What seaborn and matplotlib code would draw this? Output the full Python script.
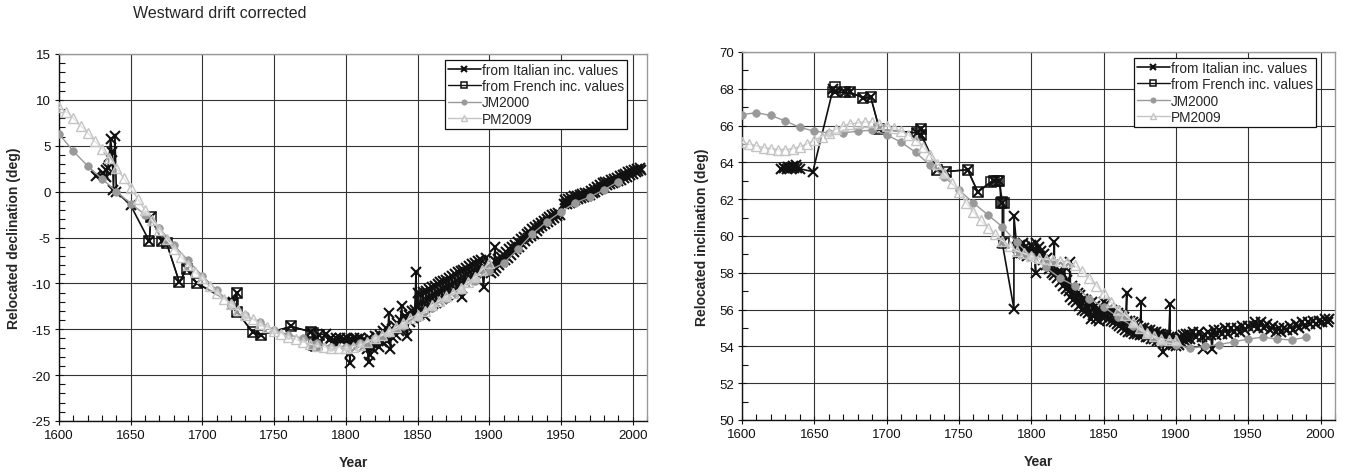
import numpy as np
import matplotlib
matplotlib.use("Agg")
import matplotlib.pyplot as plt
from matplotlib.ticker import MultipleLocator
import seaborn as sns

# ---------------- DATA ----------------
title_text = "Westward drift corrected"
series_labels = ["from Italian inc. values", "from French inc. values", "JM2000", "PM2009"]

jm_years = list(range(1600, 2000, 10))
pm_years = list(range(1600, 1905, 5))

# ---- declination panel ----
dec_jm = [6.3, 4.4, 2.8, 1.4, 0.0, -1.3, -2.5, -4.0, -5.8, -7.5,
          -9.2, -10.7, -12.3, -13.5, -14.2, -15.1, -15.6, -16.0, -16.5, -16.9,
          -16.9, -16.5, -16.0, -15.4, -14.7, -13.7, -12.7, -11.7, -10.7, -9.7,
          -8.6, -7.8, -6.3, -4.6, -3.3, -2.2, -1.2, -0.6, 0.2, 1.1]
dec_pm = [9.2, 8.7, 8.0, 7.2, 6.4, 5.5, 4.7, 3.7, 2.6, 1.5, 0.4,
          -0.8, -2.0, -3.1, -4.2, -5.2, -6.2, -7.1, -8.0, -8.8, -9.4,
          -10.3, -11.0, -11.7, -12.3, -12.9, -13.4, -13.9, -14.4, -14.8, -15.2,
          -15.5, -15.8, -16.1, -16.4, -16.6, -16.8, -16.9, -17.0, -17.0, -17.0,
          -16.9, -16.7, -16.4, -16.0, -15.6, -15.2, -14.8, -14.3, -13.8, -13.4,
          -13.0, -12.4, -11.9, -11.4, -11.0, -10.5, -9.9, -9.3, -8.5, -7.75]
dec_fr_years = [1663, 1664, 1672, 1675, 1684, 1689, 1696, 1721, 1724, 1724,
                1735, 1741, 1762, 1776, 1777, 1778, 1779, 1780, 1781]
dec_fr = [-5.4, -2.8, -5.4, -5.6, -9.9, -8.4, -10.0, -12.2, -11.0, -13.1,
          -15.3, -15.6, -14.7, -15.3, -15.4, -16.7, -16.8, -16.7, -15.6]
dec_it_years = [
    1626, 1631, 1633, 1633, 1634, 1635, 1636, 1637, 1638, 1639, 1640, 1650,
    1663, 1664, 1672, 1675, 1684, 1689, 1696, 1721, 1724, 1724, 1735, 1741,
    1762, 1776, 1778, 1780, 1781,
    1786, 1788, 1790, 1791, 1793, 1794, 1796, 1797, 1799, 1800, 1801, 1802,
    1803, 1803, 1804, 1805, 1806, 1807, 1808, 1809, 1810, 1811, 1812, 1813,
    1814, 1815, 1816, 1816, 1817, 1818, 1819, 1820, 1821, 1822, 1823, 1824,
    1825, 1826, 1827, 1828, 1829, 1830, 1831, 1832, 1833, 1834, 1835, 1836,
    1837, 1838, 1839, 1840, 1841, 1842, 1843, 1844, 1845, 1846, 1847, 1848,
    1849, 1849, 1850, 1851, 1852, 1853, 1854, 1855, 1856, 1857, 1858, 1859,
    1860, 1861, 1862, 1863, 1864, 1865, 1866, 1867, 1868, 1869, 1870, 1871,
    1872, 1873, 1874, 1875, 1876, 1877, 1878, 1879, 1880, 1881, 1882, 1883,
    1884, 1885, 1886, 1887, 1888, 1889, 1890, 1891, 1892, 1893, 1894, 1895,
    1896, 1897, 1898, 1899, 1900, 1901, 1902, 1903, 1904, 1904, 1905, 1906,
    1907, 1908, 1909, 1910, 1911, 1912, 1913, 1914, 1915, 1916, 1917, 1918,
    1919, 1920, 1921, 1922, 1923, 1924, 1925, 1926, 1927, 1928, 1929, 1930,
    1931, 1932, 1933, 1934, 1935, 1936, 1937, 1938, 1939, 1940, 1941, 1942,
    1943, 1944, 1945, 1946, 1947, 1948, 1949,
    1952, 1953, 1954, 1955, 1956, 1957, 1958, 1959, 1960, 1961, 1962, 1963,
    1964, 1965, 1966, 1967, 1968, 1969, 1970, 1971, 1972, 1973, 1974, 1975,
    1976, 1977, 1978, 1979, 1980, 1981, 1982, 1983, 1984, 1985, 1986, 1987,
    1988, 1989, 1990, 1991, 1992, 1993, 1994, 1995, 1996, 1997, 1998, 1999,
    2000, 2001, 2002, 2003, 2004, 2005, 2006]
dec_it = [
    1.7, 2.0, 2.4, 1.6, 2.6, 3.8, 5.7, 4.3, 0.2, 6.1, 0.0, -1.5,
    -5.4, -2.8, -5.4, -5.6, -9.9, -8.4, -10.0, -12.0, -11.0, -13.1, -15.3, -15.6,
    -14.7, -15.3, -16.7, -16.8, -15.6,
    -15.5, -16.2, -15.9, -16.4, -16.0, -16.5, -15.9, -16.3, -16.1, -16.6, -15.9, -16.4,
    -18.7, -17.6, -16.2, -16.5, -15.9, -16.4, -16.1, -16.6, -16.0, -16.5, -16.2, -16.8,
    -16.3, -17.2, -18.6, -16.0, -17.8, -16.5, -17.1, -15.7, -16.6, -15.8, -16.9, -15.6,
    -16.4, -15.2, -16.1, -14.9, -16.3, -13.2, -17.2, -15.0, -16.0, -14.7, -15.6, -14.3,
    -15.2, -14.0, -12.5, -15.0, -13.6, -14.6, -15.7, -13.4, -14.2, -13.0, -13.8, -12.9,
    -8.8, -13.3, -11.0, -13.4, -11.2, -12.9, -10.9, -13.6, -10.8, -12.6, -10.6, -12.4,
    -10.4, -12.3, -10.3, -12.1, -10.1, -11.9, -9.9, -11.7, -9.7, -11.5, -9.6, -11.3,
    -9.4, -11.0, -9.2, -10.9, -9.0, -10.7, -8.8, -10.4, -8.7, -11.5, -8.5, -9.9,
    -8.3, -9.6, -8.1, -9.4, -7.9, -9.1, -7.8, -8.9, -7.6, -8.7, -7.5, -8.5,
    -10.4, -8.3, -7.2, -8.6, -8.2, -8.9, -7.9, -8.6, -6.0, -7.6, -8.3, -7.3,
    -8.0, -7.1, -7.7, -6.9, -7.4, -6.6, -7.2, -6.3, -6.9, -6.0, -6.6, -5.8,
    -6.3, -5.5, -6.0, -5.2, -5.7, -4.9, -5.4, -4.6, -5.1, -4.4, -4.8, -4.1,
    -4.6, -3.9, -4.3, -3.6, -4.0, -3.4, -3.8, -3.2, -3.5, -3.0, -3.3, -2.8,
    -3.1, -2.6, -2.9, -2.4, -2.7, -2.3, -2.6,
    -1.4, -0.9, -1.3, -0.8, -1.2, -0.7, -1.0, -0.5, -0.9, -0.5, -0.8, -0.4,
    -0.7, -0.3, -0.6, -0.2, -0.5, -0.1, -0.4, 0.1, -0.2, 0.3, 0.0, 0.5,
    0.2, 0.7, 0.4, 0.9, 0.5, 1.0, 0.7, 1.1, 0.8, 1.3, 0.9, 1.4,
    1.1, 1.5, 1.2, 1.7, 1.3, 1.8, 1.5, 1.9, 1.6, 2.1, 1.8, 2.2,
    1.9, 2.4, 2.1, 2.5, 2.2, 2.6, 2.4]

# ---- inclination panel ----
inc_jm = [66.6, 66.7, 66.55, 66.25, 65.9, 65.7, 65.6, 65.6, 65.7, 65.75,
          65.5, 65.1, 64.55, 63.85, 63.2, 62.5, 61.8, 61.15, 60.5, 59.65,
          58.9, 58.3, 57.7, 57.3, 56.6, 56.15, 55.6, 55.1, 54.7, 54.25,
          54.1, 53.9, 54.0, 54.1, 54.25, 54.4, 54.5, 54.4, 54.35, 54.5]
inc_pm = [65.1, 65.0, 64.9, 64.8, 64.75, 64.7, 64.7, 64.75, 64.85, 65.0, 65.2,
          65.4, 65.6, 65.8, 66.0, 66.1, 66.15, 66.2, 66.2, 66.1, 66.0,
          65.85, 65.7, 65.5, 65.2, 64.85, 64.4, 63.9, 63.4, 62.9, 62.4,
          61.8, 61.3, 60.85, 60.45, 60.1, 59.75, 59.45, 59.2, 59.05, 58.9,
          58.8, 58.75, 58.7, 58.65, 58.6, 58.4, 58.1, 57.7, 57.3, 56.9,
          56.4, 56.0, 55.7, 55.35, 55.0, 54.75, 54.55, 54.4, 54.35, 54.35]
inc_fr_years = [1663, 1664, 1671, 1675, 1684, 1689, 1695, 1721, 1724, 1724,
                1735, 1741, 1756, 1763, 1772, 1774, 1776, 1778, 1779, 1780, 1781, 1781]
inc_fr = [67.8, 68.1, 67.8, 67.8, 67.5, 67.55, 65.8, 65.6, 65.8, 65.5,
          63.6, 63.5, 63.6, 62.4, 62.95, 63.0, 63.0, 63.0, 61.8, 61.85, 61.8, 59.6]
inc_it_years = [
    1627, 1629, 1631, 1632, 1634, 1635, 1636, 1637, 1638, 1640, 1649,
    1663, 1664, 1671, 1675, 1684, 1689, 1695, 1721, 1724, 1724, 1735, 1741,
    1756, 1763, 1774, 1778, 1780, 1780, 1788, 1788,
    1790, 1791, 1792, 1793, 1794, 1795, 1796, 1797, 1798, 1799, 1800, 1801,
    1802, 1803, 1803, 1804, 1805, 1806, 1807, 1808, 1809, 1810, 1811, 1812,
    1813, 1814, 1815, 1816, 1816, 1817, 1818, 1819, 1820, 1821, 1822, 1823,
    1824, 1825, 1826, 1827, 1827, 1828, 1829, 1830, 1831, 1832, 1833, 1834,
    1835, 1836, 1837, 1838, 1839, 1840, 1841, 1842, 1843, 1844, 1845, 1846,
    1847, 1848, 1849, 1850, 1851, 1852, 1853, 1854, 1855, 1856, 1857, 1858,
    1859, 1860, 1861, 1862, 1863, 1864, 1865, 1866, 1866, 1867, 1868, 1869,
    1870, 1871, 1872, 1873, 1874, 1875, 1876, 1876, 1877, 1878, 1879, 1880,
    1881, 1882, 1883, 1884, 1885, 1886, 1887, 1888, 1889, 1890, 1891, 1891,
    1892, 1893, 1894, 1895, 1896, 1896, 1897, 1898, 1899, 1900, 1901, 1902,
    1903, 1904, 1905, 1906, 1907, 1908, 1909, 1910, 1912, 1914, 1916, 1918,
    1919, 1920, 1922, 1924, 1925, 1926, 1928, 1930, 1932, 1934, 1936, 1938,
    1940, 1942, 1944, 1946, 1948, 1950,
    1954, 1955, 1957, 1959, 1961, 1963, 1965, 1967, 1969, 1971, 1973, 1975,
    1977, 1979, 1981, 1983, 1985, 1987, 1989, 1991, 1993, 1995, 1997, 1999,
    2001, 2003, 2005, 2006]
inc_it = [
    63.65, 63.7, 63.65, 63.75, 63.7, 63.8, 63.7, 63.85, 63.7, 63.65, 63.5,
    68.0, 67.8, 67.8, 67.8, 67.5, 67.55, 65.8, 65.6, 65.8, 65.5, 63.6, 63.5,
    63.6, 62.4, 63.0, 63.0, 61.8, 59.6, 56.05, 61.1,
    59.4, 59.0, 59.5, 59.1, 59.6, 59.0, 59.4, 58.9, 59.3, 59.0, 59.5, 58.9,
    59.3, 58.0, 59.6, 59.0, 59.4, 58.9, 59.2, 58.7, 59.0, 58.4, 58.8, 58.2,
    58.6, 58.0, 58.4, 59.7, 57.9, 58.3, 57.7, 58.1, 57.5, 58.0, 57.3, 58.3,
    57.1, 57.6, 57.0, 58.6, 56.7, 57.3, 56.5, 57.1, 56.4, 56.9, 56.2, 56.8,
    56.0, 56.6, 55.9, 56.5, 55.8, 56.3, 55.5, 56.4, 55.7, 56.2, 55.5, 56.0,
    55.4, 55.9, 55.6, 56.4, 55.6, 56.3, 55.5, 56.1, 55.4, 56.0, 55.3, 55.9,
    55.2, 55.8, 55.1, 55.7, 55.0, 55.6, 54.9, 56.9, 55.4, 54.8, 55.4, 54.8,
    55.3, 54.7, 55.2, 54.7, 55.1, 54.6, 56.4, 55.0, 54.6, 55.0, 54.5, 54.9,
    54.5, 54.9, 54.4, 54.8, 54.4, 54.8, 54.3, 54.7, 54.3, 54.7, 53.7, 54.6,
    54.2, 54.6, 54.2, 54.5, 56.3, 54.1, 54.5, 54.1, 54.4, 54.0, 54.4, 54.1,
    54.5, 54.2, 54.6, 54.3, 54.7, 54.4, 54.7, 54.4, 54.8, 54.5, 54.8, 54.5,
    53.85, 54.6, 54.8, 54.6, 53.85, 54.9, 54.6, 54.9, 54.7, 55.0, 54.7, 55.0,
    54.8, 55.0, 54.8, 55.1, 54.9, 55.1,
    55.1, 55.3, 55.0, 55.3, 55.0, 55.2, 54.9, 55.1, 54.8, 55.0, 54.8, 55.0,
    54.9, 55.1, 54.9, 55.2, 55.0, 55.3, 55.1, 55.3, 55.2, 55.4, 55.2, 55.4,
    55.3, 55.5, 55.3, 55.5]

# ---------------- STYLE ----------------
sns.set_style("white")
plt.rcParams['font.family'] = ['Liberation Sans', 'DejaVu Sans']
plt.rcParams['axes.unicode_minus'] = False

fig = plt.figure(figsize=(13.51, 4.77), dpi=100)
ax1 = fig.add_axes([59/1351, 1-422/477, 588/1351, 367/477])
ax2 = fig.add_axes([742/1351, 1-421/477, 593/1351, 368/477])

BLACK = "#111111"
JMC = "#999999"
PMC = "#c4c4c4"


def draw(ax, it_y, it_v, fr_y, fr_v, jm_v, pm_v):
    sns.lineplot(x=it_y, y=it_v, ax=ax, estimator=None, sort=False, color=BLACK,
                 lw=1.2, marker="x", markersize=6.5, mec=BLACK, mew=1.5,
                 label=series_labels[0], zorder=3)
    sns.lineplot(x=fr_y, y=fr_v, ax=ax, estimator=None, sort=False, color=BLACK,
                 lw=1.0, marker="s", markersize=6.5, mec=BLACK, mfc="none", mew=1.1,
                 label=series_labels[1], zorder=4)
    sns.lineplot(x=jm_years, y=jm_v, ax=ax, estimator=None, sort=False, color=JMC,
                 lw=1.0, marker="o", markersize=5.5, mec=JMC, mfc=JMC, mew=0.5,
                 label=series_labels[2], zorder=5)
    sns.lineplot(x=pm_years, y=pm_v, ax=ax, estimator=None, sort=False, color=PMC,
                 lw=1.0, marker="^", markersize=6.5, mec=PMC, mfc=(1, 1, 1, 0.55), mew=1.0,
                 label=series_labels[3], zorder=6)


draw(ax1, dec_it_years, dec_it, dec_fr_years, dec_fr, dec_jm, dec_pm)
draw(ax2, inc_it_years, inc_it, inc_fr_years, inc_fr, inc_jm, inc_pm)

for ax, ylim, ymaj, ymin, ylab, lx, xly, leg_anchor in [
    (ax1, (-25, 15), 5, 1, "Relocated declination (deg)", -0.064, -0.094, (0.966, 0.984)),
    (ax2, (50, 70), 2, 1, "Relocated inclination (deg)", -0.055, -0.093, (0.968, 0.984)),
]:
    ax.set_xlim(1600, 2010)
    ax.set_ylim(*ylim)
    ax.xaxis.set_major_locator(MultipleLocator(50))
    ax.xaxis.set_minor_locator(MultipleLocator(10))
    ax.yaxis.set_major_locator(MultipleLocator(ymaj))
    ax.yaxis.set_minor_locator(MultipleLocator(ymin))
    ax.grid(True, which="major", color="#333333", lw=0.8, zorder=0)
    ax.set_axisbelow(True)
    ax.tick_params(which="major", direction="inout", length=6, width=0.8,
                   colors=BLACK, labelsize=9.5, pad=3,
                   bottom=True, left=True, top=False, right=False)
    ax.tick_params(which="minor", direction="in", length=4, width=0.8,
                   colors=BLACK, bottom=True, left=True, top=False, right=False)
    for s in ["left", "bottom"]:
        ax.spines[s].set_color(BLACK)
        ax.spines[s].set_linewidth(1.0)
    for s in ["top", "right"]:
        ax.spines[s].set_color("#999999")
        ax.spines[s].set_linewidth(1.0)
    ax.set_xlabel("Year", fontsize=10, fontweight="bold")
    ax.set_ylabel(ylab, fontsize=10, fontweight="bold")
    ax.yaxis.set_label_coords(lx, 0.5)
    ax.xaxis.set_label_coords(0.5, xly)
    leg = ax.legend(loc="upper right", bbox_to_anchor=leg_anchor, fontsize=9.8,
                    frameon=True, fancybox=False, framealpha=1, edgecolor=BLACK,
                    borderpad=0.2, labelspacing=0.18, handlelength=2.4,
                    handletextpad=0.1, borderaxespad=0, markerscale=0.7)
    leg.get_frame().set_linewidth(0.9)
    leg.set_zorder(20)

fig.text(133/1351, 1-14/477, title_text, fontsize=11.5, ha="left", va="center")

fig.savefig("out.png", dpi=100)
